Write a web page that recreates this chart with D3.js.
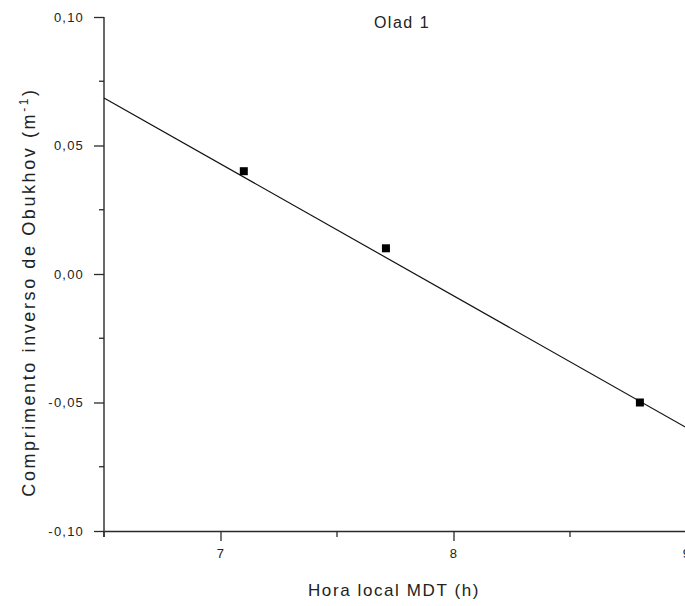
<!DOCTYPE html>
<html>
<head>
<meta charset="utf-8">
<script src="https://cdn.jsdelivr.net/npm/d3@7"></script>
<style>
  html, body { margin: 0; padding: 0; background: #fff; }
  svg { display: block; }
  text { font-family: "Liberation Sans", Arial, sans-serif; fill: #222; }
</style>
</head>
<body>
<svg id="chart" width="685" height="606"></svg>
<script>
// Observations: local time (h) and inverse Obukhov length (1/m)
const hours = [7.10, 7.71, 8.80];
const invObukhov = [0.040, 0.010, -0.050];

// Linear fit drawn across the full time range
const fitHours = [6.5, 9.0];
const fitValues = [0.0685, -0.0598];

// Axis ticks and their labels
const xTicks = [7, 8, 9];
const xTickLabels = ["7", "8", "9"];
const xMinorTicks = [6.5, 7.5, 8.5];
const yTicks = [0.10, 0.05, 0.00, -0.05, -0.10];
const yTickLabels = ["0,10", "0,05", "0,00", "-0,05", "-0,10"];
const yMinorTicks = [0.075, 0.025, -0.025, -0.075];

const chartTitle = "Olad 1";
const xTitle = "Hora local MDT (h)";
const yTitle = "Comprimento inverso de Obukhov (m";

const svg = d3.select("#chart");
const plotLeft = 104, plotRight = 686.5, plotTop = 17, plotBottom = 531;

const x = d3.scaleLinear().domain([6.5, 9]).range([plotLeft, plotRight]);
const y = d3.scaleLinear().domain([-0.10, 0.10]).range([plotBottom, plotTop]);

// Axes
const xAxis = d3.axisBottom(x).tickValues(xTicks)
  .tickFormat((d, i) => xTickLabels[i]).tickSizeInner(10).tickSizeOuter(0).tickPadding(8);
const yAxis = d3.axisLeft(y).tickValues(yTicks)
  .tickFormat((d, i) => yTickLabels[i]).tickSizeInner(10).tickSizeOuter(0).tickPadding(10);

const gx = svg.append("g").attr("transform", `translate(0,${plotBottom})`).call(xAxis);
const gy = svg.append("g").attr("transform", `translate(${plotLeft},0)`).call(yAxis);

// Minor ticks
gx.selectAll(".minor").data(xMinorTicks).join("line")
  .attr("class", "minor")
  .attr("x1", d => x(d)).attr("x2", d => x(d))
  .attr("y1", 0).attr("y2", 6);
gy.selectAll(".minor").data(yMinorTicks).join("line")
  .attr("class", "minor")
  .attr("y1", d => y(d)).attr("y2", d => y(d))
  .attr("x1", 0).attr("x2", -5);

[gx, gy].forEach(g => {
  g.select(".domain").attr("stroke", "#2a2a2a").attr("stroke-width", 1.4);
  g.selectAll(".tick line, line.minor").attr("stroke", "#2a2a2a").attr("stroke-width", 1.3);
  g.selectAll(".tick text")
    .style("font-family", '"Liberation Sans", Arial, sans-serif')
    .style("font-size", "13px")
    .style("letter-spacing", "1.2px")
    .attr("fill", "#222");
});
// y-axis line runs a little below the x axis
gy.select(".domain").attr("d", `M0,${plotTop}V${plotBottom + 6}`);

// Fit line
const line = d3.line().x(d => x(d[0])).y(d => y(d[1]));
svg.append("path")
  .datum(d3.zip(fitHours, fitValues))
  .attr("d", line)
  .attr("fill", "none")
  .attr("stroke", "#111")
  .attr("stroke-width", 1.2);

// Data points
const size = 8;
svg.selectAll("rect.pt").data(d3.zip(hours, invObukhov)).join("rect")
  .attr("class", "pt")
  .attr("x", d => x(d[0]) - size / 2)
  .attr("y", d => y(d[1]) - size / 2)
  .attr("width", size).attr("height", size)
  .attr("fill", "#000");

// Titles
svg.append("text")
  .attr("x", 402).attr("y", 28)
  .attr("text-anchor", "middle")
  .style("font-size", "16px").style("letter-spacing", "1.5px")
  .text(chartTitle);

svg.append("text")
  .attr("x", 394).attr("y", 596)
  .attr("text-anchor", "middle")
  .style("font-size", "17px").style("letter-spacing", "1.6px")
  .text(xTitle);

const yt = svg.append("text")
  .attr("transform", "translate(35,292) rotate(-90)")
  .attr("text-anchor", "middle")
  .style("font-size", "18px").style("letter-spacing", "2.6px");
yt.append("tspan").text(yTitle);
yt.append("tspan").attr("dy", -7).style("font-size", "12px").text("-1");
yt.append("tspan").attr("dy", 7).text(")");
</script>
</body>
</html>
